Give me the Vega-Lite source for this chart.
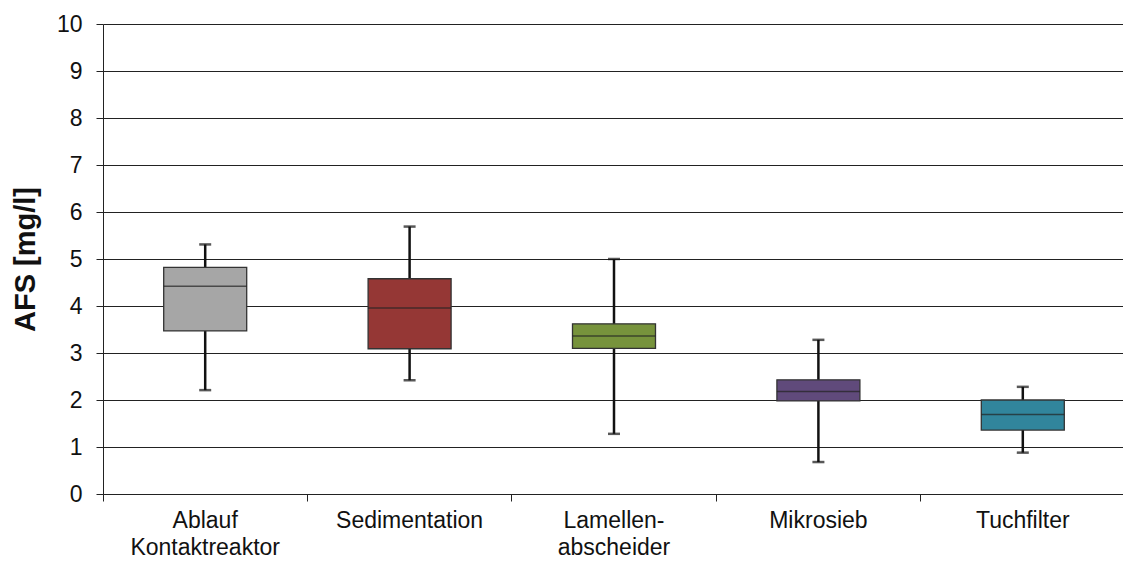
{
  "$schema": "https://vega.github.io/schema/vega-lite/v6.json",
  "width": 1022,
  "height": 470,
  "autosize": {"type": "none"},
  "padding": {"left": 103, "top": 24, "right": 0, "bottom": 67},
  "background": "white",
  "config": {
    "view": {"stroke": null},
    "font": "Liberation Sans"
  },
  "data": {
    "values": [
      {"cat": "Ablauf|Kontaktreaktor", "min": 2.21, "q1": 3.47, "median": 4.42, "q3": 4.82, "max": 5.31, "color": "#a6a6a6"},
      {"cat": "Sedimentation", "min": 2.42, "q1": 3.09, "median": 3.96, "q3": 4.58, "max": 5.69, "color": "#953735"},
      {"cat": "Lamellen-|abscheider", "min": 1.28, "q1": 3.1, "median": 3.36, "q3": 3.62, "max": 5.0, "color": "#77933c"},
      {"cat": "Mikrosieb", "min": 0.68, "q1": 1.98, "median": 2.18, "q3": 2.43, "max": 3.28, "color": "#604a7b"},
      {"cat": "Tuchfilter", "min": 0.88, "q1": 1.36, "median": 1.69, "q3": 2.0, "max": 2.28, "color": "#31859c"}
    ]
  },
  "encoding": {
    "x": {
      "field": "cat",
      "type": "nominal",
      "sort": null,
      "scale": {"paddingInner": 0, "paddingOuter": 0},
      "axis": {
        "title": null,
        "labelAngle": 0,
        "labelExpr": "split(datum.label, '|')",
        "labelFontSize": 23,
        "labelColor": "#111",
        "labelPadding": 8,
        "labelLineHeight": 27,
        "bandPosition": 0,
        "tickSize": 7,
        "tickColor": "#222",
        "domainColor": "#222",
        "grid": false
      }
    }
  },
  "layer": [
    {
      "mark": {"type": "rule", "color": "#111", "strokeWidth": 2.5},
      "encoding": {
        "y": {
          "field": "min",
          "type": "quantitative",
          "scale": {"domain": [0, 10], "nice": false},
          "axis": {
            "title": "AFS [mg/l]",
            "titleFontSize": 29,
            "titleFontWeight": "bold",
            "titleColor": "#111",
            "titlePadding": 16,
            "values": [0, 1, 2, 3, 4, 5, 6, 7, 8, 9, 10],
            "labelFontSize": 23,
            "labelColor": "#111",
            "labelPadding": 14,
            "tickSize": 7,
            "tickColor": "#222",
            "domainColor": "#222",
            "grid": true,
            "gridColor": "#222",
            "gridWidth": 1,
            "gridOpacity": 1
          }
        },
        "y2": {"field": "max"}
      }
    },
    {
      "mark": {"type": "tick", "color": "#111", "size": 12, "thickness": 2.5},
      "encoding": {"y": {"field": "min", "type": "quantitative"}}
    },
    {
      "mark": {"type": "tick", "color": "#111", "size": 12, "thickness": 2.5},
      "encoding": {"y": {"field": "max", "type": "quantitative"}}
    },
    {
      "mark": {"type": "bar", "size": 83, "stroke": "#333", "strokeWidth": 1.3},
      "encoding": {
        "y": {"field": "q1", "type": "quantitative"},
        "y2": {"field": "q3"},
        "fill": {"field": "color", "type": "nominal", "scale": null}
      }
    },
    {
      "mark": {"type": "tick", "color": "#222", "size": 83, "thickness": 1.5},
      "encoding": {"y": {"field": "median", "type": "quantitative"}}
    }
  ]
}
